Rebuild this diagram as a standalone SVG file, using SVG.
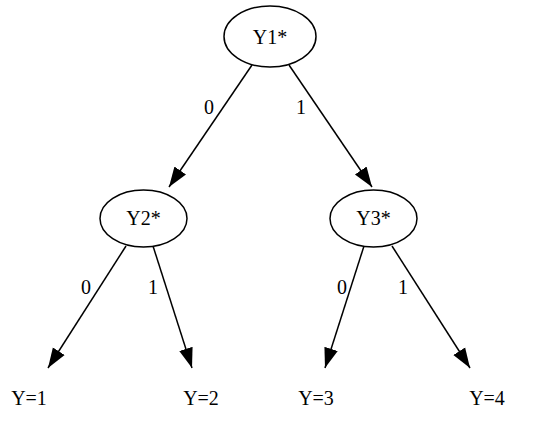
<svg xmlns="http://www.w3.org/2000/svg" width="546" height="421" viewBox="0 0 546 421">
<style>
text{font-family:"Liberation Serif","Times New Roman",serif;font-size:20px;fill:#000;text-anchor:middle}
.node ellipse{fill:#fff;stroke:#000;stroke-width:1.5}
.edge line{stroke:#000;stroke-width:1.5}
</style>
<defs>
<marker id="arr" markerUnits="userSpaceOnUse" markerWidth="21" markerHeight="16" refX="20" refY="8" orient="auto" viewBox="0 0 21 16">
<path d="M0,1 L20,8 L0,15 z" fill="#000"/>
</marker>
</defs>
<rect width="546" height="421" fill="#fff"/>
<g id="edges" class="edge">
<line x1="252" y1="65" x2="169" y2="187" marker-end="url(#arr)"/>
<line x1="289" y1="65" x2="372" y2="187" marker-end="url(#arr)"/>
<line x1="126" y1="246" x2="48" y2="368" marker-end="url(#arr)"/>
<line x1="153" y1="246" x2="192" y2="368" marker-end="url(#arr)"/>
<line x1="364" y1="246" x2="325" y2="368" marker-end="url(#arr)"/>
<line x1="392" y1="246" x2="470" y2="368" marker-end="url(#arr)"/>
<text x="209" y="114">0</text>
<text x="301" y="114">1</text>
<text x="86" y="294">0</text>
<text x="153" y="294">1</text>
<text x="342" y="294">0</text>
<text x="403" y="294">1</text>
</g>
<g id="Y1" class="node"><ellipse cx="270" cy="36.5" rx="46" ry="30.5"/><text x="270" y="44">Y1*</text></g>
<g id="Y2" class="node"><ellipse cx="143.5" cy="218.5" rx="43.5" ry="28.5"/><text x="143.5" y="225">Y2*</text></g>
<g id="Y3" class="node"><ellipse cx="373.5" cy="218.5" rx="43.5" ry="28.5"/><text x="373.5" y="225">Y3*</text></g>
<g id="L1" class="node"><text x="29" y="405">Y=1</text></g>
<g id="L2" class="node"><text x="201" y="405">Y=2</text></g>
<g id="L3" class="node"><text x="316" y="405">Y=3</text></g>
<g id="L4" class="node"><text x="487" y="405">Y=4</text></g>
</svg>
